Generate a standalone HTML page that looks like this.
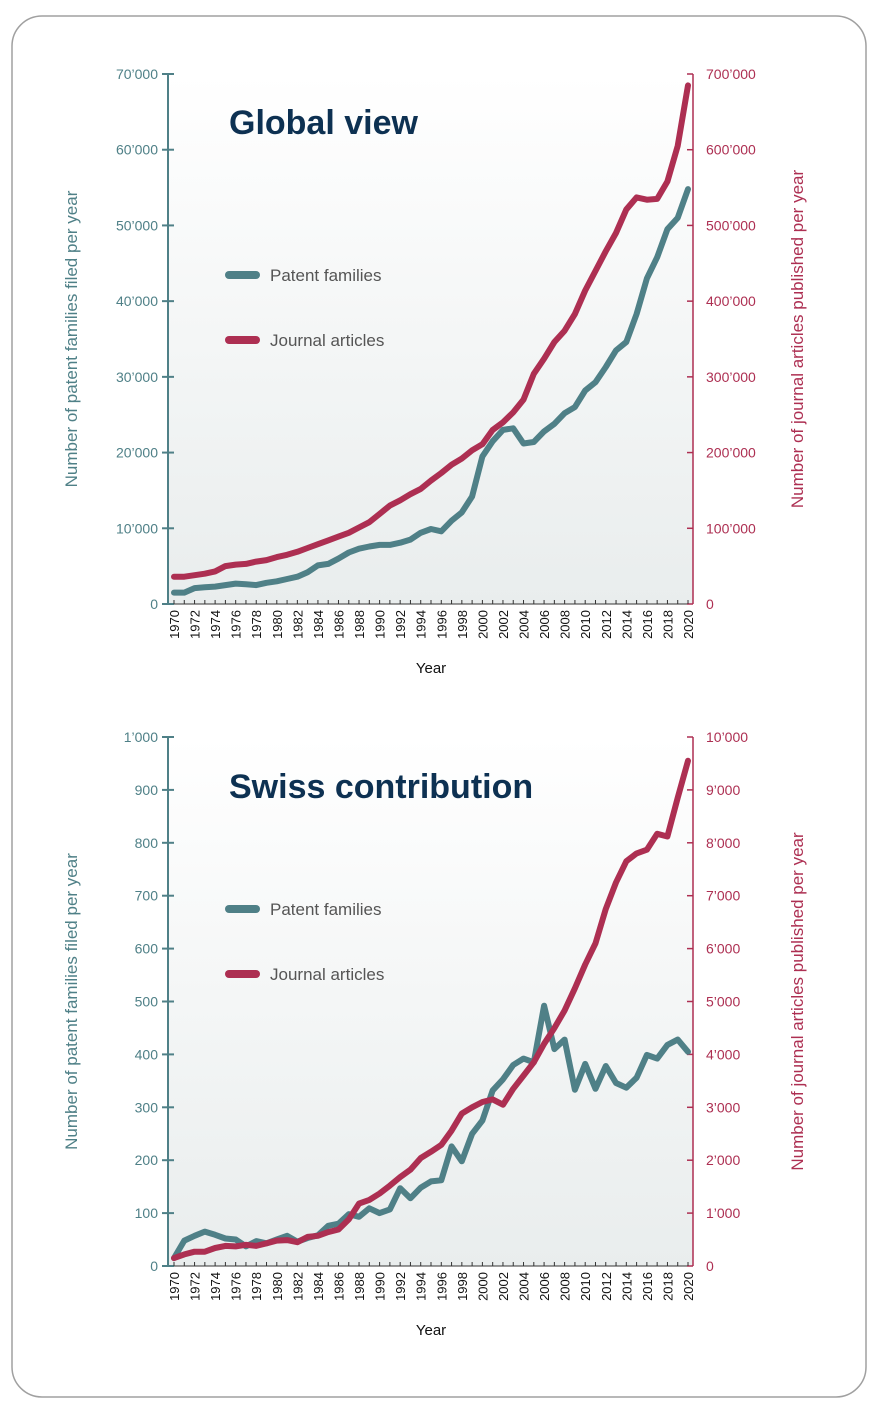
<!DOCTYPE html>
<html><head><meta charset="utf-8"><style>
body{margin:0;background:#fff;width:878px;height:1412px;overflow:hidden;font-family:"Liberation Sans",sans-serif}
</style></head><body>
<svg id="s" width="878" height="1412" xmlns="http://www.w3.org/2000/svg">
<defs><linearGradient id="g" x1="0" y1="0" x2="0" y2="1"><stop offset="0" stop-color="#ffffff"/><stop offset="1" stop-color="#e9eded"/></linearGradient></defs>
<rect x="12" y="16" width="854" height="1381" rx="30" fill="#fff" stroke="#a0a0a0" stroke-width="1.5"/>
</svg>
<script>
const s=document.getElementById('s');const NS='http://www.w3.org/2000/svg';
function el(t,a,txt){const e=document.createElementNS(NS,t);for(const k in a)e.setAttribute(k,a[k]);if(txt!==undefined)e.textContent=txt;s.appendChild(e);return e;}
const TEAL='#4f8087',RED='#ad2f52';
function chart(o){
 const x0=168,x1=693,y0=o.y0,y1=o.y1;
 el('rect',{x:x0,y:y1,width:x1-x0,height:y0-y1,fill:'url(#g)'});
 el('line',{x1:x0,y1:y1,x2:x0,y2:y0+1,stroke:TEAL,'stroke-width':2});
 el('line',{x1:x1,y1:y1,x2:x1,y2:y0,stroke:RED,'stroke-width':1.5});
 el('line',{x1:x0,y1:y0,x2:x1,y2:y0,stroke:'#333','stroke-width':1});
 for(let i=0;i<=o.nt;i++){const y=y0-(y0-y1)*i/o.nt;
  el('line',{x1:x0-6,y1:y,x2:x0+6,y2:y,stroke:TEAL,'stroke-width':2});
  el('line',{x1:x1-6,y1:y,x2:x1,y2:y,stroke:RED,'stroke-width':1.5});
  el('text',{x:158,y:y+5,'text-anchor':'end','font-size':14,fill:TEAL},o.ll[i]);
  el('text',{x:706,y:y+5,'font-size':14,fill:RED},o.rl[i]);}
 const X=yr=>174+(yr-1970)*10.28;
 for(let yr=1970;yr<=2020;yr++){el('line',{x1:X(yr),y1:y0-4,x2:X(yr),y2:y0,stroke:'#333','stroke-width':1});
  if(yr%2==0){el('text',{x:0,y:0,transform:`translate(${X(yr)+5},${y0+6}) rotate(-90)`,'text-anchor':'end','font-size':13,fill:'#111'},yr);}}
 el('text',{x:431,y:y0+69,'text-anchor':'middle','font-size':15,fill:'#111'},'Year');
 const yl=v=>y0-(y0-y1)*v/o.lmax, yr_=v=>y0-(y0-y1)*v/o.rmax;
 const pts=(d,f)=>d.map((v,i)=>X(1970+i).toFixed(1)+','+f(v).toFixed(1)).join(' ');
 el('polyline',{points:pts(o.pat,yl),fill:'none',stroke:TEAL,'stroke-width':6,'stroke-linejoin':'round','stroke-linecap':'round'});
 el('polyline',{points:pts(o.jou,yr_),fill:'none',stroke:RED,'stroke-width':6,'stroke-linejoin':'round','stroke-linecap':'round'});
 el('text',{x:229,y:o.ty,'font-size':34,'font-weight':'bold',fill:'#0d3152'},o.title);
 el('line',{x1:229,y1:o.ly,x2:256,y2:o.ly,stroke:TEAL,'stroke-width':8,'stroke-linecap':'round'});
 el('text',{x:270,y:o.ly+6,'font-size':17,fill:'#555'},'Patent families');
 el('line',{x1:229,y1:o.ly+65,x2:256,y2:o.ly+65,stroke:RED,'stroke-width':8,'stroke-linecap':'round'});
 el('text',{x:270,y:o.ly+71,'font-size':17,fill:'#555'},'Journal articles');
 const cy=(y0+y1)/2;
 el('text',{x:0,y:0,transform:`translate(77,${cy}) rotate(-90)`,'text-anchor':'middle','font-size':17,fill:TEAL},'Number of patent families filed per year');
 el('text',{x:0,y:0,transform:`translate(803,${cy}) rotate(-90)`,'text-anchor':'middle','font-size':17,fill:RED},'Number of journal articles published per year');
}
chart({y0:604,y1:74,nt:7,lmax:70,rmax:700,title:'Global view',ty:134,ly:275,
 ll:['0',"10’000","20’000","30’000","40’000","50’000","60’000","70’000"],
 rl:['0',"100’000","200’000","300’000","400’000","500’000","600’000","700’000"],
 pat:[1.5,1.5,2.1,2.2,2.3,2.5,2.7,2.6,2.5,2.8,3.0,3.3,3.6,4.2,5.1,5.3,6.0,6.8,7.3,7.6,7.8,7.8,8.1,8.5,9.4,9.9,9.6,11.0,12.1,14.2,19.5,21.5,23.0,23.2,21.2,21.4,22.8,23.8,25.2,26.0,28.2,29.3,31.3,33.5,34.6,38.3,43.0,45.8,49.5,51.0,54.8],
 jou:[36,36,38,40,43,50,52,53,56,58,62,65,69,74,79,84,89,94,101,108,119,130,137,145,152,163,173,184,192,203,211,230,240,253,270,304,324,346,361,383,414,440,466,490,521,537,537,534,535,558,605,685].filter((v,i)=>i!==45)});
chart({y0:1266,y1:737,nt:10,lmax:1000,rmax:10,title:'Swiss contribution',ty:798,ly:909,
 ll:['0','100','200','300','400','500','600','700','800','900',"1’000"],
 rl:['0',"1’000","2’000","3’000","4’000","5’000","6’000","7’000","8’000","9’000","10’000"],
 pat:[15,48,57,65,59,52,50,37,47,43,50,57,46,53,58,76,80,98,93,109,100,107,147,128,148,160,162,226,198,250,275,332,353,380,392,385,492,410,428,333,382,335,378,346,337,356,399,392,418,428,405],
 jou:[0.15,0.22,0.27,0.27,0.34,0.38,0.37,0.40,0.38,0.43,0.48,0.49,0.45,0.55,0.57,0.64,0.69,0.88,1.18,1.25,1.37,1.52,1.68,1.82,2.04,2.16,2.29,2.56,2.88,3.00,3.10,3.15,3.05,3.35,3.60,3.85,4.20,4.50,4.83,5.25,5.70,6.10,6.75,7.25,7.65,7.80,7.87,8.17,8.12,8.85,9.55]});
</script>
</body></html>
